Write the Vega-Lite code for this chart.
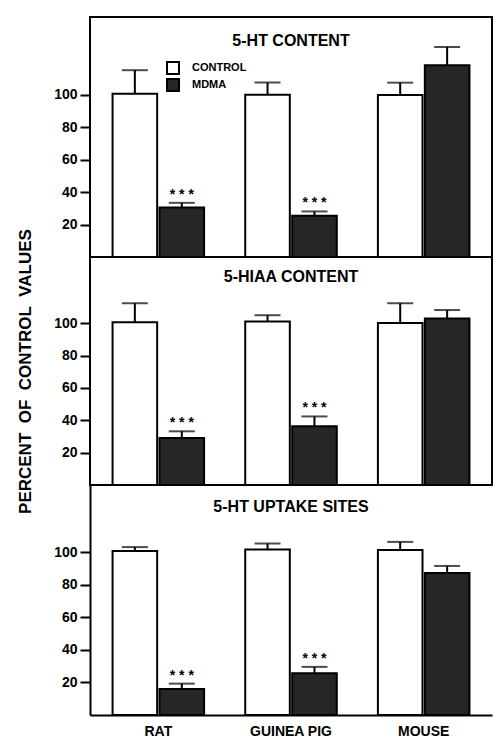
{
  "$schema": "https://vega.github.io/schema/vega-lite/v6.json",
  "padding": {"left": 14, "top": 16, "right": 3, "bottom": 5},
  "background": "white",
  "config": {
    "font": "Liberation Sans",
    "view": {"stroke": "black", "strokeWidth": 2},
    "axis": {"grid": false, "labelFontWeight": "bold", "labelColor": "black", "titleColor": "black", "domainColor": "black", "tickColor": "black"}
  },
  "spacing": 0,
  "bounds": "flush",
  "resolve": {"scale": {"fill": "independent", "y": "independent", "x": "independent"}, "legend": {"fill": "independent"}},
  "datasets": {
    "bars": [
      {"panel": "5-HT CONTENT", "species": "RAT", "group": "CONTROL", "value": 100.6, "upper": 115.2, "sig": null},
      {"panel": "5-HT CONTENT", "species": "RAT", "group": "MDMA", "value": 30.5, "upper": 33.4, "sig": "* * *"},
      {"panel": "5-HT CONTENT", "species": "GUINEA PIG", "group": "CONTROL", "value": 100.0, "upper": 107.6, "sig": null},
      {"panel": "5-HT CONTENT", "species": "GUINEA PIG", "group": "MDMA", "value": 25.5, "upper": 28.1, "sig": "* * *"},
      {"panel": "5-HT CONTENT", "species": "MOUSE", "group": "CONTROL", "value": 99.9, "upper": 107.5, "sig": null},
      {"panel": "5-HT CONTENT", "species": "MOUSE", "group": "MDMA", "value": 118.2, "upper": 129.5, "sig": null},
      {"panel": "5-HIAA CONTENT", "species": "RAT", "group": "CONTROL", "value": 100.6, "upper": 112.4, "sig": null},
      {"panel": "5-HIAA CONTENT", "species": "RAT", "group": "MDMA", "value": 29.1, "upper": 33.2, "sig": "* * *"},
      {"panel": "5-HIAA CONTENT", "species": "GUINEA PIG", "group": "CONTROL", "value": 101.1, "upper": 105.0, "sig": null},
      {"panel": "5-HIAA CONTENT", "species": "GUINEA PIG", "group": "MDMA", "value": 36.4, "upper": 42.4, "sig": "* * *"},
      {"panel": "5-HIAA CONTENT", "species": "MOUSE", "group": "CONTROL", "value": 100.2, "upper": 112.4, "sig": null},
      {"panel": "5-HIAA CONTENT", "species": "MOUSE", "group": "MDMA", "value": 103.0, "upper": 108.2, "sig": null},
      {"panel": "5-HT UPTAKE SITES", "species": "RAT", "group": "CONTROL", "value": 100.9, "upper": 103.3, "sig": null},
      {"panel": "5-HT UPTAKE SITES", "species": "RAT", "group": "MDMA", "value": 16.0, "upper": 19.3, "sig": "* * *"},
      {"panel": "5-HT UPTAKE SITES", "species": "GUINEA PIG", "group": "CONTROL", "value": 101.8, "upper": 105.5, "sig": null},
      {"panel": "5-HT UPTAKE SITES", "species": "GUINEA PIG", "group": "MDMA", "value": 25.7, "upper": 29.6, "sig": "* * *"},
      {"panel": "5-HT UPTAKE SITES", "species": "MOUSE", "group": "CONTROL", "value": 101.5, "upper": 106.5, "sig": null},
      {"panel": "5-HT UPTAKE SITES", "species": "MOUSE", "group": "MDMA", "value": 87.4, "upper": 91.7, "sig": null}
    ]
  },
  "vconcat": [
    {
      "width": 402, "height": 240,
      "data": {"name": "bars"},
      "transform": [{"filter": "datum.panel === '5-HT CONTENT'"}],
      "layer": [
        {
          "mark": {"type": "bar", "stroke": "black", "strokeWidth": 2},
          "encoding": {
            "x": {"field": "species", "type": "nominal", "sort": ["RAT", "GUINEA PIG", "MOUSE"], "scale": {"paddingInner": 0.31, "paddingOuter": 0.17}, "axis": null},
            "xOffset": {"field": "group", "type": "nominal", "sort": ["CONTROL", "MDMA"], "scale": {"paddingInner": 0.05}},
            "y": {"field": "value", "type": "quantitative", "scale": {"domain": [0, 148], "nice": false}, "axis": {"values": [20, 40, 60, 80, 100], "title": null, "domain": false, "tickSize": 10, "tickWidth": 2, "labelFontSize": 14, "labelPadding": 3}},
            "fill": {"field": "group", "type": "nominal", "sort": ["CONTROL", "MDMA"], "scale": {"domain": ["CONTROL", "MDMA"], "range": ["white", "#262626"]}, "legend": {"orient": "none", "legendX": 76, "legendY": 44, "title": null, "symbolType": "square", "symbolSize": 144, "symbolStrokeColor": "black", "symbolStrokeWidth": 2, "symbolOpacity": 1, "labelFontSize": 11, "labelFontWeight": "bold", "labelColor": "black", "labelOffset": 12, "rowPadding": -8, "padding": 0}}
          }
        },
        {
          "mark": {"type": "rule", "color": "black", "strokeWidth": 2},
          "encoding": {
            "x": {"field": "species", "type": "nominal", "sort": ["RAT", "GUINEA PIG", "MOUSE"]},
            "xOffset": {"field": "group", "type": "nominal", "sort": ["CONTROL", "MDMA"]},
            "y": {"field": "value", "type": "quantitative"}, "y2": {"field": "upper"}}
        },
        {
          "mark": {"type": "tick", "color": "black", "thickness": 2, "size": 26, "orient": "horizontal"},
          "encoding": {
            "x": {"field": "species", "type": "nominal", "sort": ["RAT", "GUINEA PIG", "MOUSE"]},
            "xOffset": {"field": "group", "type": "nominal", "sort": ["CONTROL", "MDMA"]},
            "y": {"field": "upper", "type": "quantitative"}}
        },
        {
          "transform": [{"filter": "datum.sig != null"}],
          "mark": {"type": "text", "fontSize": 14, "fontWeight": "bold", "baseline": "middle", "dy": -8, "color": "black"},
          "encoding": {
            "x": {"field": "species", "type": "nominal", "sort": ["RAT", "GUINEA PIG", "MOUSE"]},
            "xOffset": {"field": "group", "type": "nominal", "sort": ["CONTROL", "MDMA"]},
            "y": {"field": "upper", "type": "quantitative"}, "text": {"field": "sig"}}
        },
        {
          "transform": [{"aggregate": [], "groupby": ["panel"]}],
          "mark": {"type": "text", "fontSize": 16, "fontWeight": "bold", "baseline": "alphabetic", "align": "center", "color": "black"},
          "encoding": {
            "x": {"datum": "GUINEA PIG"},
            "y": {"datum": 130.2},
            "text": {"field": "panel"}}
        }
      ]
    },
    {
      "width": 402, "height": 228,
      "data": {"name": "bars"},
      "transform": [{"filter": "datum.panel === '5-HIAA CONTENT'"}],
      "layer": [
        {
          "mark": {"type": "bar", "stroke": "black", "strokeWidth": 2},
          "encoding": {
            "x": {"field": "species", "type": "nominal", "sort": ["RAT", "GUINEA PIG", "MOUSE"], "scale": {"paddingInner": 0.31, "paddingOuter": 0.17}, "axis": null},
            "xOffset": {"field": "group", "type": "nominal", "sort": ["CONTROL", "MDMA"], "scale": {"paddingInner": 0.05}},
            "y": {"field": "value", "type": "quantitative", "scale": {"domain": [0, 141], "nice": false}, "axis": {"values": [20, 40, 60, 80, 100], "title": "PERCENT\u00a0\u00a0OF\u00a0\u00a0CONTROL\u00a0\u00a0VALUES", "titleFontSize": 17, "titleFontWeight": "bold", "titleX": -56, "domain": false, "tickSize": 10, "tickWidth": 2, "labelFontSize": 14, "labelPadding": 3}},
            "fill": {"field": "group", "type": "nominal", "scale": {"domain": ["CONTROL", "MDMA"], "range": ["white", "#262626"]}, "legend": null}
          }
        },
        {
          "mark": {"type": "rule", "color": "black", "strokeWidth": 2},
          "encoding": {
            "x": {"field": "species", "type": "nominal", "sort": ["RAT", "GUINEA PIG", "MOUSE"]},
            "xOffset": {"field": "group", "type": "nominal", "sort": ["CONTROL", "MDMA"]},
            "y": {"field": "value", "type": "quantitative"}, "y2": {"field": "upper"}}
        },
        {
          "mark": {"type": "tick", "color": "black", "thickness": 2, "size": 26, "orient": "horizontal"},
          "encoding": {
            "x": {"field": "species", "type": "nominal", "sort": ["RAT", "GUINEA PIG", "MOUSE"]},
            "xOffset": {"field": "group", "type": "nominal", "sort": ["CONTROL", "MDMA"]},
            "y": {"field": "upper", "type": "quantitative"}}
        },
        {
          "transform": [{"filter": "datum.sig != null"}],
          "mark": {"type": "text", "fontSize": 14, "fontWeight": "bold", "baseline": "middle", "dy": -8, "color": "black"},
          "encoding": {
            "x": {"field": "species", "type": "nominal", "sort": ["RAT", "GUINEA PIG", "MOUSE"]},
            "xOffset": {"field": "group", "type": "nominal", "sort": ["CONTROL", "MDMA"]},
            "y": {"field": "upper", "type": "quantitative"}, "text": {"field": "sig"}}
        },
        {
          "transform": [{"aggregate": [], "groupby": ["panel"]}],
          "mark": {"type": "text", "fontSize": 16, "fontWeight": "bold", "baseline": "alphabetic", "align": "center", "color": "black"},
          "encoding": {
            "x": {"datum": "GUINEA PIG"},
            "y": {"datum": 125.5},
            "text": {"field": "panel"}}
        }
      ]
    },
    {
      "width": 402, "height": 230,
      "view": {"stroke": null},
      "data": {"name": "bars"},
      "transform": [{"filter": "datum.panel === '5-HT UPTAKE SITES'"}],
      "layer": [
        {
          "mark": {"type": "bar", "stroke": "black", "strokeWidth": 2},
          "encoding": {
            "x": {"field": "species", "type": "nominal", "sort": ["RAT", "GUINEA PIG", "MOUSE"], "scale": {"paddingInner": 0.31, "paddingOuter": 0.17}, "axis": {"title": null, "labelAngle": 0, "ticks": false, "domainWidth": 2, "labelFontSize": 14, "labelPadding": 9}},
            "xOffset": {"field": "group", "type": "nominal", "sort": ["CONTROL", "MDMA"], "scale": {"paddingInner": 0.05}},
            "y": {"field": "value", "type": "quantitative", "scale": {"domain": [0, 141.5], "nice": false}, "axis": {"values": [20, 40, 60, 80, 100], "title": null, "domain": true, "domainWidth": 2, "tickSize": 10, "tickWidth": 2, "labelFontSize": 14, "labelPadding": 3}},
            "fill": {"field": "group", "type": "nominal", "scale": {"domain": ["CONTROL", "MDMA"], "range": ["white", "#262626"]}, "legend": null}
          }
        },
        {
          "mark": {"type": "rule", "color": "black", "strokeWidth": 2},
          "encoding": {
            "x": {"field": "species", "type": "nominal", "sort": ["RAT", "GUINEA PIG", "MOUSE"]},
            "xOffset": {"field": "group", "type": "nominal", "sort": ["CONTROL", "MDMA"]},
            "y": {"field": "value", "type": "quantitative"}, "y2": {"field": "upper"}}
        },
        {
          "mark": {"type": "tick", "color": "black", "thickness": 2, "size": 26, "orient": "horizontal"},
          "encoding": {
            "x": {"field": "species", "type": "nominal", "sort": ["RAT", "GUINEA PIG", "MOUSE"]},
            "xOffset": {"field": "group", "type": "nominal", "sort": ["CONTROL", "MDMA"]},
            "y": {"field": "upper", "type": "quantitative"}}
        },
        {
          "transform": [{"filter": "datum.sig != null"}],
          "mark": {"type": "text", "fontSize": 14, "fontWeight": "bold", "baseline": "middle", "dy": -8, "color": "black"},
          "encoding": {
            "x": {"field": "species", "type": "nominal", "sort": ["RAT", "GUINEA PIG", "MOUSE"]},
            "xOffset": {"field": "group", "type": "nominal", "sort": ["CONTROL", "MDMA"]},
            "y": {"field": "upper", "type": "quantitative"}, "text": {"field": "sig"}}
        },
        {
          "transform": [{"aggregate": [], "groupby": ["panel"]}],
          "mark": {"type": "text", "fontSize": 16, "fontWeight": "bold", "baseline": "alphabetic", "align": "center", "color": "black"},
          "encoding": {
            "x": {"datum": "GUINEA PIG"},
            "y": {"datum": 124.6},
            "text": {"field": "panel"}}
        }
      ]
    }
  ]
}
